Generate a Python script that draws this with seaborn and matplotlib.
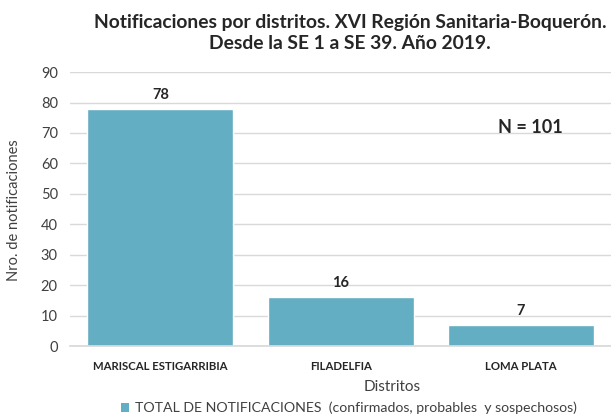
import matplotlib
matplotlib.use("Agg")
import matplotlib.pyplot as plt
from matplotlib.patches import Patch
import seaborn as sns
import pandas as pd

distritos = ["MARISCAL ESTIGARRIBIA", "FILADELFIA", "LOMA PLATA"]
valores = [78, 16, 7]
serie = "TOTAL DE NOTIFICACIONES  (confirmados, probables  y sospechosos)"
yticks = [0, 10, 20, 30, 40, 50, 60, 70, 80, 90]

sns.set_theme(style="white")
plt.rcParams['font.family'] = ['Lato', 'DejaVu Sans']

df = pd.DataFrame({"Distritos": distritos, "Valor": valores, "Serie": serie})
color = "#63AEC2"

fig = plt.figure(figsize=(6.11, 4.19), dpi=100)
ax = fig.add_axes([0.115, 0.174, 0.885, 0.654])
sns.barplot(data=df, x="Distritos", y="Valor", hue="Serie", palette=[color],
            width=0.81, ax=ax, saturation=1, legend=False)
ax.set_ylim(0, 90)
ax.set_xlim(-0.5, 2.5)
ax.set_yticks(yticks)
ax.set_yticklabels([str(t) for t in yticks], fontsize=10.5, color="#404040")
ax.yaxis.grid(True, color="#D9D9D9", linewidth=1)
ax.set_axisbelow(True)
for s in ["top", "right", "left"]:
    ax.spines[s].set_visible(False)
ax.spines["bottom"].set_color("#D9D9D9")
ax.tick_params(axis="both", length=0)
ax.tick_params(axis="y", pad=9)
ax.tick_params(axis="x", pad=11)
ax.set_xticks(range(len(distritos)))
ax.set_xticklabels(distritos, fontsize=8.2, fontweight="bold", color="#262626")
ax.set_xlabel("Distritos", fontsize=11, color="#404040")
ax.xaxis.set_label_coords(0.595, -0.124)
ax.set_ylabel("Nro. de notificaciones", fontsize=10.5, color="#404040")
ax.yaxis.set_label_coords(-0.092, 0.496)

for cont in ax.containers:
    ax.bar_label(cont, labels=[str(v) for v in valores], padding=5,
                 fontsize=10.5, fontweight="bold", color="#262626")

ax.text(0.85, 0.796, "N = 101", transform=ax.transAxes, fontsize=13,
        fontweight="bold", color="#262626", ha="center", va="center")

fig.suptitle("Notificaciones por distritos. XVI Región Sanitaria-Boquerón.\nDesde la SE 1 a SE 39. Año 2019.",
             x=0.573, y=0.966, fontsize=13.9, fontweight="bold", color="#262626",
             linespacing=1.25)

leg = fig.legend(handles=[Patch(facecolor=color, edgecolor="none")], labels=[serie],
                 loc="center", bbox_to_anchor=(0.571, 0.026), frameon=False,
                 fontsize=10.2, handlelength=0.6, handleheight=0.6, handletextpad=0.4)
for t in leg.get_texts():
    t.set_color("#404040")

fig.savefig("out.png", dpi=100)
